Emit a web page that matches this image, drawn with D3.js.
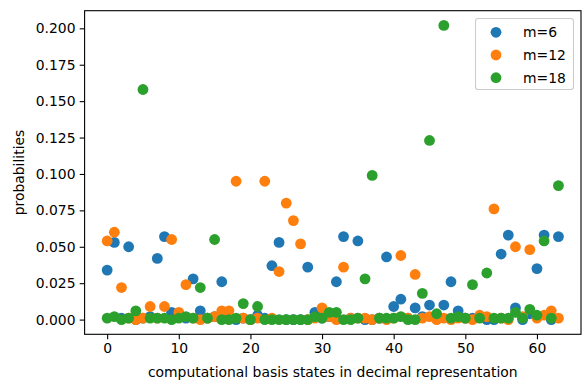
<!DOCTYPE html>
<html>
<head>
<meta charset="utf-8">
<script src="https://cdn.jsdelivr.net/npm/d3@7/dist/d3.min.js"></script>
<style>
  html, body { margin: 0; padding: 0; background: #fff; }
  svg { display: block; }
  text { font-family: "DejaVu Sans", sans-serif; }
</style>
</head>
<body>
<svg id="chart" width="582" height="381"></svg>
<script>
const states = d3.range(64);
const seriesNames = ["m=6", "m=12", "m=18"];
const seriesColors = ["#1f77b4", "#ff7f0e", "#2ca02c"];

const m6 = [0.034,0.053,0.001,0.050,0.000,0.001,0.002,0.042,0.057,0.005,
            0.003,0.001,0.028,0.006,0.001,0.002,0.026,0.001,0.000,0.001,
            0.000,0.003,0.001,0.037,0.053,0.000,0.000,0.000,0.036,0.005,
            0.001,0.002,0.026,0.057,0.001,0.054,0.000,0.000,0.001,0.043,
            0.009,0.014,0.001,0.008,0.002,0.010,0.001,0.010,0.026,0.006,
            0.001,0.001,0.002,0.000,0.000,0.045,0.058,0.008,0.000,0.004,
            0.035,0.058,0.000,0.057];
const m12 = [0.054,0.060,0.022,0.001,0.000,0.001,0.009,0.001,0.009,0.055,
             0.005,0.024,0.001,0.000,0.001,0.002,0.006,0.006,0.095,0.001,
             0.000,0.001,0.095,0.001,0.033,0.080,0.068,0.052,0.000,0.001,
             0.008,0.002,0.000,0.036,0.001,0.001,0.001,0.000,0.001,0.000,
             0.001,0.044,0.001,0.031,0.001,0.002,0.000,0.001,0.000,0.001,
             0.001,0.000,0.003,0.002,0.076,0.001,0.000,0.050,0.002,0.048,
             0.001,0.003,0.006,0.001];
const m18 = [0.001,0.002,0.000,0.001,0.006,0.158,0.001,0.001,0.001,0.000,
             0.001,0.002,0.001,0.022,0.001,0.055,0.000,0.000,0.001,0.011,
             0.000,0.009,0.000,0.000,0.000,0.000,0.000,0.000,0.000,0.002,
             0.001,0.005,0.005,0.000,0.000,0.001,0.028,0.099,0.001,0.001,
             0.001,0.002,0.000,0.000,0.018,0.123,0.004,0.202,0.001,0.002,
             0.001,0.024,0.001,0.032,0.001,0.001,0.001,0.005,0.001,0.007,
             0.003,0.054,0.001,0.092];
const xTicks = [0, 10, 20, 30, 40, 50, 60];
const yTicks = [0.000, 0.025, 0.050, 0.075, 0.100, 0.125, 0.150, 0.175, 0.200];

const allSeries = [m6, m12, m18];

const svg = d3.select("#chart");
const L = 84.6, R = 581, T = 10.7, B = 334.3;
const FS = 13.9;

const x = d3.scaleLinear().domain([-3.15, 66.15]).range([L, R]);
const yMax = d3.max(allSeries.flat());
const yMin = d3.min(allSeries.flat());
const pad = (yMax - yMin) * 0.05;
const y = d3.scaleLinear().domain([yMin - pad, yMax + pad]).range([B, T]);

// points
allSeries.forEach((vals, si) => {
  svg.append("g").selectAll("circle")
    .data(states)
    .join("circle")
    .attr("cx", d => x(d))
    .attr("cy", d => y(vals[d]))
    .attr("r", 5.4)
    .attr("fill", seriesColors[si]);
});

// axes
const xAxis = d3.axisBottom(x).tickValues(xTicks).tickFormat(d3.format("d"))
  .tickSize(4.9).tickPadding(4.2);
const yAxis = d3.axisLeft(y).tickValues(yTicks).tickFormat(d3.format(".3f"))
  .tickSize(4.9).tickPadding(4.2);

const gx = svg.append("g").attr("transform", `translate(0,${B})`).call(xAxis);
const gy = svg.append("g").attr("transform", `translate(${L},0)`).call(yAxis);
[gx, gy].forEach(g => {
  g.select(".domain").remove();
  g.selectAll("line").attr("stroke", "#000").attr("stroke-width", 1.1);
  g.selectAll("text").attr("font-size", FS).attr("fill", "#000")
    .attr("font-family", "DejaVu Sans, sans-serif");
});

// frame
svg.append("rect")
  .attr("x", L).attr("y", T).attr("width", R - L).attr("height", B - T)
  .attr("fill", "none").attr("stroke", "#000").attr("stroke-width", 1.1);

// axis labels
svg.append("text")
  .attr("x", (L + R) / 2).attr("y", 377)
  .attr("text-anchor", "middle").attr("font-size", FS).attr("fill", "#000")
  .text("computational basis states in decimal representation");
svg.append("text")
  .attr("transform", `translate(24,${(T + B) / 2}) rotate(-90)`)
  .attr("text-anchor", "middle").attr("font-size", FS).attr("fill", "#000")
  .text("probabilities");

// legend
const lg = svg.append("g");
lg.append("rect")
  .attr("x", 475.5).attr("y", 18.5).attr("width", 98).attr("height", 71)
  .attr("rx", 2.8).attr("ry", 2.8)
  .attr("fill", "#fff").attr("fill-opacity", 0.8)
  .attr("stroke", "#cccccc").attr("stroke-width", 1.1);
seriesNames.forEach((name, i) => {
  const cy = 32.3 + i * 22.7;
  lg.append("circle").attr("cx", 496).attr("cy", cy).attr("r", 5.4)
    .attr("fill", seriesColors[i]);
  lg.append("text").attr("x", 523).attr("y", cy).attr("dy", "0.36em")
    .attr("font-size", FS).attr("fill", "#000").text(name);
});
</script>
</body>
</html>
